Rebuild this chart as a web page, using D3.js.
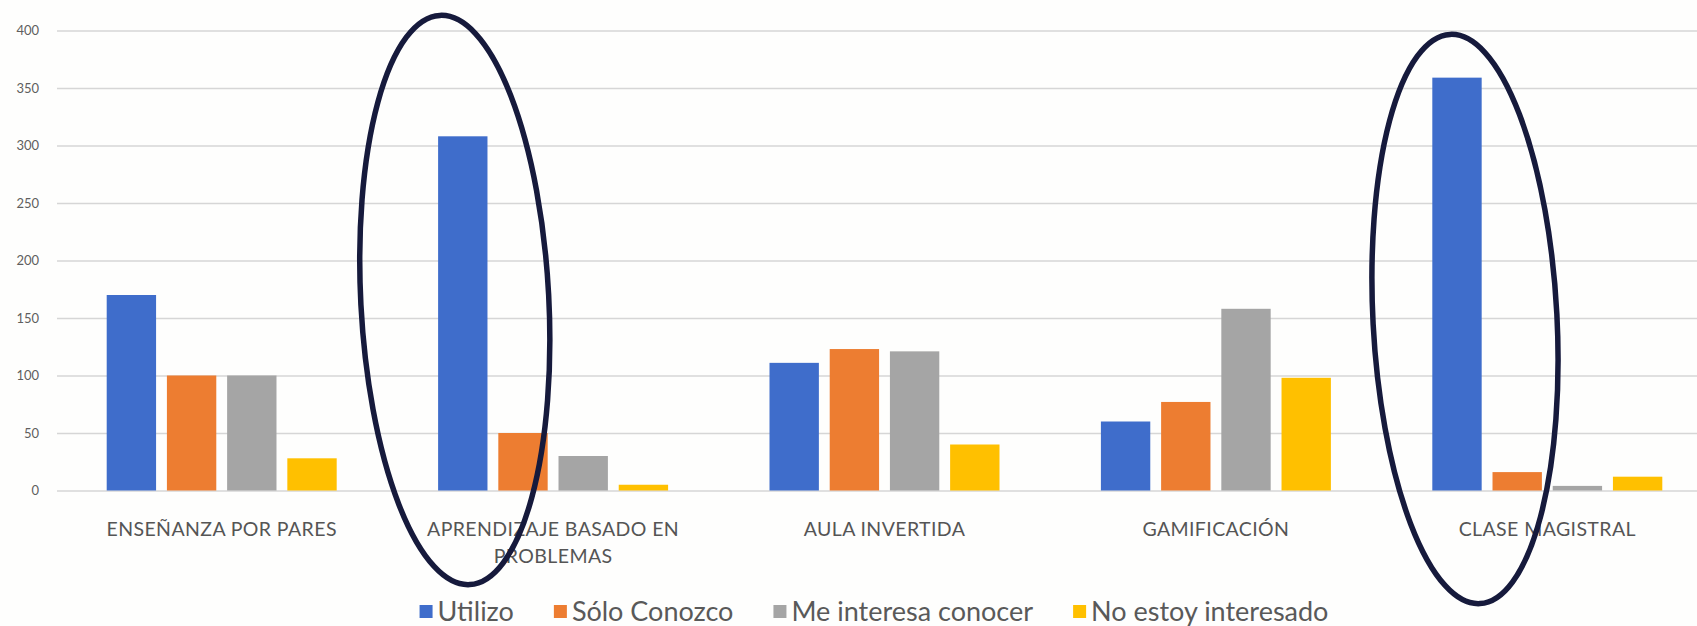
<!DOCTYPE html>
<html>
<head>
<meta charset="utf-8">
<script src="https://cdn.jsdelivr.net/npm/d3@7"></script>
<style>
  html, body { margin: 0; padding: 0; background: #ffffff; }
  svg { display: block; font-family: Lato, "Open Sans", "Noto Sans", sans-serif; }
</style>
</head>
<body>
<svg id="chart" width="1697" height="626"></svg>
<script>
// Teaching methodologies and how respondents relate to each one
const categories = [
  "ENSEÑANZA POR PARES",
  "APRENDIZAJE BASADO EN PROBLEMAS",
  "AULA INVERTIDA",
  "GAMIFICACIÓN",
  "CLASE MAGISTRAL"
];
const seriesNames = ["Utilizo", "Sólo Conozco", "Me interesa conocer", "No estoy interesado"];
const utilizo      = [170, 308, 111, 60, 359];
const soloConozco  = [100, 50, 123, 77, 16];
const meInteresa   = [100, 30, 121, 158, 4];
const noInteresado = [28, 5, 40, 98, 12];
const yTicks = [0, 50, 100, 150, 200, 250, 300, 350, 400];
// Methodologies circled on the chart
const highlighted = ["APRENDIZAJE BASADO EN PROBLEMAS", "CLASE MAGISTRAL"];

const seriesValues = [utilizo, soloConozco, meInteresa, noInteresado];
const colors = ["#3f6dcb", "#ed7d31", "#a5a5a5", "#ffc000"];

const svg = d3.select("#chart");
const W = 1697, H = 626;

svg.append("rect").attr("width", W).attr("height", H).attr("fill", "#fefefd");

const root = svg.append("g");

const plotLeft = 57, plotRight = 1713;
const x0 = d3.scaleBand()
  .domain(categories)
  .range([plotLeft - 1, plotRight])
  .paddingInner(0.306)
  .paddingOuter(0.153);

const x1 = d3.scaleBand()
  .domain(seriesNames)
  .range([0, x0.bandwidth()])
  .paddingInner(0.18)
  .paddingOuter(0);

const y = d3.scaleLinear().domain([0, 400]).range([490.5, 30.5]);

// value axis with gridlines
const yAxis = root.append("g")
  .attr("transform", `translate(${plotLeft},0)`)
  .call(d3.axisLeft(y)
    .tickValues(yTicks)
    .tickSize(-(plotRight - plotLeft))
    .tickPadding(18));
yAxis.select(".domain").remove();
yAxis.selectAll(".tick line")
  .attr("stroke", "#d6d6d6")
  .attr("stroke-width", 1.6);
yAxis.selectAll(".tick text")
  .attr("fill", "#5f5f5f")
  .attr("font-size", 13)
  .attr("font-family", "Lato, sans-serif");

// grouped bars
const rows = categories.map((c, i) => ({
  category: c,
  values: seriesNames.map((s, j) => ({ series: s, value: seriesValues[j][i], color: colors[j] }))
}));

const groups = root.append("g").selectAll("g")
  .data(rows)
  .join("g")
  .attr("transform", d => `translate(${x0(d.category)},0)`);

groups.selectAll("rect")
  .data(d => d.values)
  .join("rect")
  .attr("x", d => x1(d.series))
  .attr("width", x1.bandwidth())
  .attr("y", d => y(d.value))
  .attr("height", d => y(0) - y(d.value))
  .attr("fill", d => d.color);

// category labels, wrapped when too long
const maxLabelWidth = 300;
const labels = root.append("g")
  .attr("font-size", 19.5)
  .attr("letter-spacing", 0.4)
  .attr("fill", "#555555")
  .attr("text-anchor", "middle");

categories.forEach(c => {
  const cx = x0(c) + x0.bandwidth() / 2;
  const t = labels.append("text").attr("x", cx).attr("y", 536);
  const words = c.split(" ");
  let line = [];
  let tspan = t.append("tspan").attr("x", cx).attr("dy", 0);
  words.forEach(w => {
    line.push(w);
    tspan.text(line.join(" "));
    if (tspan.node().getComputedTextLength() > maxLabelWidth && line.length > 1) {
      line.pop();
      tspan.text(line.join(" "));
      line = [w];
      tspan = t.append("tspan").attr("x", cx).attr("dy", 27).text(w);
    }
  });
});

// legend, centred under the plot
const legend = root.append("g").attr("font-size", 27).attr("fill", "#595959");
const swatch = 13, swatchGap = 5, itemGap = 40;
let lx = 0;
seriesNames.forEach((s, i) => {
  const g = legend.append("g");
  g.append("rect")
    .attr("x", 0).attr("y", -16)
    .attr("width", swatch).attr("height", swatch)
    .attr("fill", colors[i]);
  const txt = g.append("text")
    .attr("x", swatch + swatchGap).attr("y", 0)
    .text(s);
  const w = swatch + swatchGap + txt.node().getComputedTextLength();
  g.attr("transform", `translate(${lx},0)`);
  lx += w + itemGap;
});
const legendWidth = lx - itemGap;
legend.attr("transform", `translate(${874 - legendWidth / 2},621)`);

// ovals drawn around the highlighted methodologies
const ovalStyle = [
  { dx: -8, cy: 300, rx: 94, ry: 285, rotate: -3 },
  { dx: 8, cy: 319, rx: 92, ry: 285, rotate: -3 }
];
highlighted.forEach((c, i) => {
  const s = ovalStyle[i];
  const cx = x0(c) + x1("Utilizo") + x1.bandwidth() / 2 + s.dx;
  root.append("ellipse")
    .attr("cx", cx).attr("cy", s.cy)
    .attr("rx", s.rx).attr("ry", s.ry)
    .attr("transform", `rotate(${s.rotate},${cx},${s.cy})`)
    .attr("fill", "none")
    .attr("stroke", "#161a3c")
    .attr("stroke-width", 5.5);
});
</script>
</body>
</html>
